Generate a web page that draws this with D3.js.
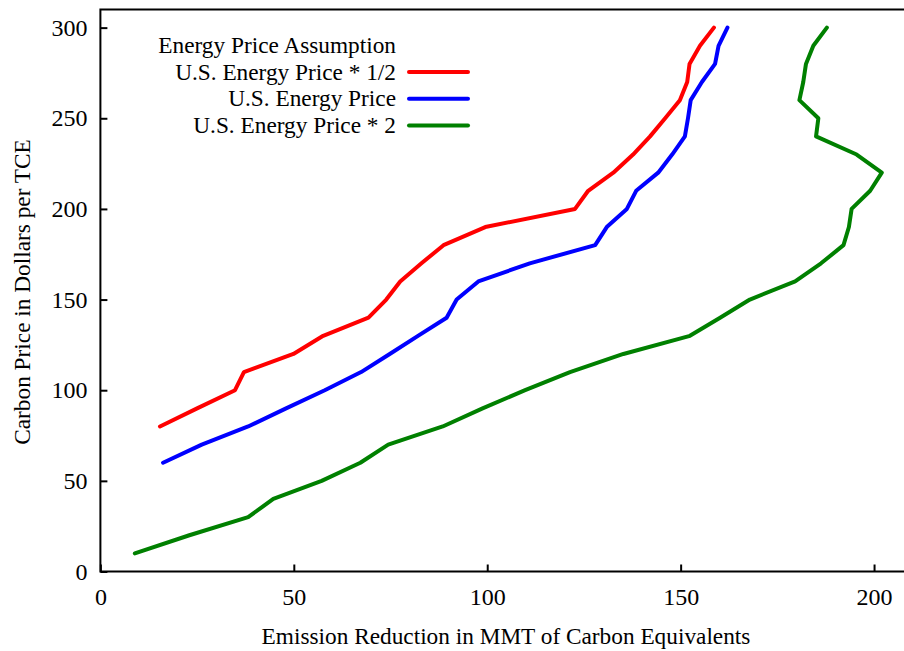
<!DOCTYPE html>
<html>
<head>
<meta charset="utf-8">
<script src="https://cdn.jsdelivr.net/npm/d3@7"></script>
<style>
  body { margin: 0; background: #fff; }
  svg text { font-family: "Liberation Serif", "Times New Roman", "DejaVu Serif", serif !important; }
</style>
</head>
<body>
<div id="chart"></div>
<script>
// carbon price levels (y) and emission reduction (x) per scenario
const halfPrice = [80, 90, 100, 110, 120, 130, 140, 150, 160, 170, 180, 190, 200, 210, 220, 230, 240, 250, 260, 270, 280, 290, 300];
const halfRed = [15.4, 25, 34.8, 37.1, 49.9, 57.6, 69.3, 73.9, 77.5, 83, 88.7, 99.5, 122.7, 126.1, 132.6, 137.7, 142.1, 146, 149.8, 151.7, 152.3, 155, 158.6];

const basePrice = [60, 70, 80, 90, 100, 110, 120, 130, 140, 150, 160, 170, 180, 190, 200, 210, 220, 230, 240, 250, 260, 270, 280, 290, 300];
const baseRed = [16.2, 26.2, 38.2, 48, 58, 67.4, 74.8, 82.1, 89.5, 92.1, 97.7, 111, 127.9, 130.9, 136.1, 138.5, 144.2, 147.8, 151.1, 151.9, 152.6, 155.5, 158.9, 159.8, 162.1];

const dblPrice = [10, 20, 30, 40, 50, 60, 70, 80, 90, 100, 110, 120, 130, 140, 150, 160, 170, 180, 190, 200, 210, 220, 230, 240, 250, 260, 270, 280, 290, 300];
const dblRed = [8.9, 23, 38.2, 44.7, 57.2, 67.2, 74.4, 88.5, 98.8, 109.8, 121.4, 135.2, 152.4, 160.2, 167.9, 179.6, 186.3, 192.1, 193.5, 194.2, 199, 202, 195.5, 185, 185.6, 180.7, 181.7, 182.4, 184.3, 187.8];

const xTicks = [0, 50, 100, 150, 200];
const yTicks = [0, 50, 100, 150, 200, 250, 300];

const seriesNames = ["U.S. Energy Price * 1/2", "U.S. Energy Price", "U.S. Energy Price * 2"];
const seriesColors = ["#ff0000", "#0000ff", "#008000"];

const W = 904, H = 651;
const margin = { top: 9.5, right: -1, bottom: 79.5, left: 100.4 };
const width = W - margin.left - margin.right;
const height = H - margin.top - margin.bottom;

const svg = d3.select("#chart").append("svg")
  .attr("width", W).attr("height", H);

const g = svg.append("g")
  .attr("transform", `translate(${margin.left},${margin.top})`);

const x = d3.scaleLinear().domain([0, 208]).range([0, width]);
const y = d3.scaleLinear().domain([0, 310]).range([height, 0]);

// frame
g.append("rect")
  .attr("x", 0).attr("y", 0)
  .attr("width", width).attr("height", height)
  .attr("fill", "none").attr("stroke", "#000").attr("stroke-width", 2);

// x axis
const xAxis = g.append("g")
  .attr("transform", `translate(0,${height})`)
  .call(d3.axisBottom(x).tickValues(xTicks).tickSize(-7).tickPadding(16).tickFormat(d3.format("d")));
xAxis.select(".domain").remove();
xAxis.selectAll("line").attr("stroke", "#000").attr("stroke-width", 2);
xAxis.selectAll("text").attr("font-size", 24).attr("fill", "#000");

// y axis
const yAxis = g.append("g")
  .call(d3.axisLeft(y).tickValues(yTicks).tickSize(-7).tickPadding(13).tickFormat(d3.format("d")));
yAxis.select(".domain").remove();
yAxis.selectAll("line").attr("stroke", "#000").attr("stroke-width", 2);
yAxis.selectAll("text").attr("font-size", 24).attr("fill", "#000");

// axis titles
svg.append("text")
  .attr("x", 506).attr("y", 644)
  .attr("text-anchor", "middle")
  .attr("font-size", 23.3)
  .text("Emission Reduction in MMT of Carbon Equivalents");

svg.append("text")
  .attr("transform", "translate(30,292) rotate(-90)")
  .attr("text-anchor", "middle")
  .attr("font-size", 23.3)
  .text("Carbon Price in Dollars per TCE");

// lines
const line = d3.line()
  .x(d => x(d[0]))
  .y(d => y(d[1]));

const series = [
  d3.zip(halfRed, halfPrice),
  d3.zip(baseRed, basePrice),
  d3.zip(dblRed, dblPrice)
];

series.forEach((pts, i) => {
  g.append("path")
    .datum(pts)
    .attr("fill", "none")
    .attr("stroke", seriesColors[i])
    .attr("stroke-width", 4)
    .attr("stroke-linejoin", "round")
    .attr("stroke-linecap", "round")
    .attr("d", line);
});

// legend
const legend = svg.append("g");
legend.append("text")
  .attr("x", 396).attr("y", 52.5)
  .attr("text-anchor", "end")
  .attr("font-size", 23.3)
  .text("Energy Price Assumption");

seriesNames.forEach((name, i) => {
  const cy = 72 + i * 26.7;
  legend.append("text")
    .attr("x", 396).attr("y", cy + 7.5)
    .attr("text-anchor", "end")
    .attr("font-size", 23.3)
    .text(name);
  legend.append("line")
    .attr("x1", 409).attr("x2", 468)
    .attr("y1", cy).attr("y2", cy)
    .attr("stroke", seriesColors[i])
    .attr("stroke-width", 4)
    .attr("stroke-linecap", "round");
});
</script>
</body>
</html>
